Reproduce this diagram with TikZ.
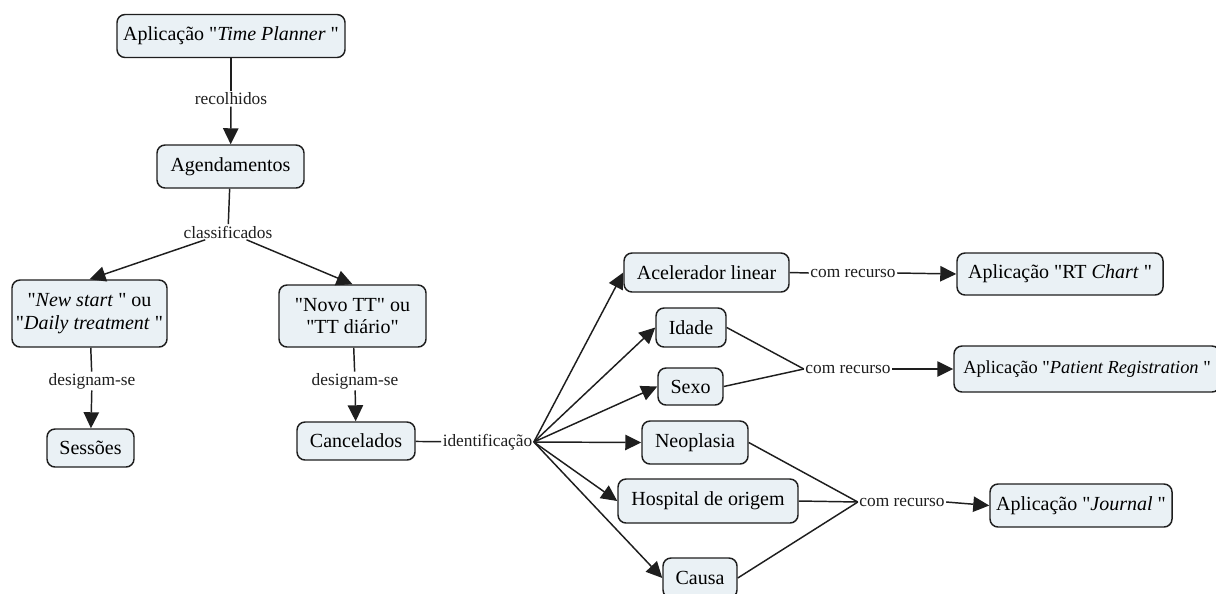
\documentclass[tikz,border=0pt]{standalone}
\usepackage{fontspec}
\setmainfont{Liberation Serif}[Ligatures=TeXOff]
\usetikzlibrary{arrows.meta}
\definecolor{boxfill}{RGB}{234,241,245}
\definecolor{ink}{RGB}{30,30,30}
\tikzset{
  concept/.style={draw=ink, line width=1.1pt, fill=boxfill, rounded corners=6pt,
    align=center, inner sep=1pt, font=\fontsize{15}{17}\selectfont},
  linklabel/.style={inner sep=1pt, font=\fontsize{13}{15}\selectfont, text=ink},
  link/.style={draw=ink, line width=1.1pt},
  arr/.style={link, -{Triangle[length=12pt,width=11.5pt]}}
}
\begin{document}
\begin{tikzpicture}[x=0.75pt,y=-0.75pt]
\useasboundingbox (0,0) rectangle (1216,593);
\clip (0,0) rectangle (1216,593);
% concepts
\node[concept, minimum width=171pt, minimum height=32.25pt] (tp) at (231,36) {Aplicação "\textit{Time Planner} "};
\node[concept, minimum width=110.25pt, minimum height=32.25pt] (ag) at (230.5,166.5) {Agendamentos};
\node[concept, minimum width=116.25pt, minimum height=50.25pt] (ns) at (89.5,313.5) {"\textit{New start} " ou\\"\textit{Daily treatment} "};
\node[concept, minimum width=110.25pt, minimum height=46.5pt] (nt) at (352.5,316) {"Novo TT" ou\\"TT diário"};
\node[concept, minimum width=65.25pt, minimum height=28.5pt] (se) at (90.5,448) {Sessões};
\node[concept, minimum width=88.5pt, minimum height=28.5pt] (ca) at (356,441) {Cancelados};
\node[concept, minimum width=123.75pt, minimum height=29.25pt] (ac) at (706.5,272.5) {Acelerador linear};
\node[concept, minimum width=52.5pt, minimum height=29.25pt] (id) at (691,327.5) {Idade};
\node[concept, minimum width=48.75pt, minimum height=27.75pt] (sx) at (690.5,386.5) {Sexo};
\node[concept, minimum width=79.5pt, minimum height=32.25pt] (ne) at (695,442.5) {Neoplasia};
\node[concept, minimum width=135pt, minimum height=33pt] (ho) at (708,501) {Hospital de origem};
\node[concept, minimum width=55.5pt, minimum height=30pt] (cs) at (700,578) {Causa};
\node[concept, minimum width=154.5pt, minimum height=31.5pt] (rt) at (1060,274) {Aplicação "RT \textit{Chart} "};
\node[concept, minimum width=199.5pt, minimum height=34.5pt, font=\fontsize{13.8}{16}\selectfont] (pr) at (1087,369) {Aplicação "\textit{Patient Registration} "};
\node[concept, minimum width=136.5pt, minimum height=32.25pt] (jo) at (1081,505.5) {Aplicação "\textit{Journal} "};
% linking phrases
\node[linklabel] (lrec) at (231,99) {recolhidos};
\node[linklabel] (lcla) at (228,232) {classificados};
\node[linklabel] (ldl) at (92,381) {designam-se};
\node[linklabel] (ldr) at (355,381) {designam-se};
\node[linklabel] (lid) at (487.5,442) {identificação};
\node[linklabel] (lcr1) at (853,273) {com recurso};
\node[linklabel] (lcr2) at (848,369) {com recurso};
\node[linklabel] (lcr3) at (902,502) {com recurso};
% connectors
\draw[link] (tp) -- (lrec);
\draw[arr] (lrec) -- (ag);
\draw[link] (ag) -- (lcla);
\draw[arr] (lcla) -- (ns.north);
\draw[arr] (lcla) -- (nt.north);
\draw[link] (ns) -- (ldl);
\draw[arr] (ldl) -- (se);
\draw[link] (nt) -- (ldr);
\draw[arr] (ldr) -- (ca);
\draw[link] (ca) -- (lid);
\draw[arr] (lid.east) -- (ac.west);
\draw[arr] (lid.east) -- (id.west);
\draw[arr] (lid.east) -- (sx.west);
\draw[arr] (lid.east) -- (ne.west);
\draw[arr] (lid.east) -- (ho.west);
\draw[arr] (lid.east) -- (cs.west);
\draw[link] (ac.east) -- (lcr1.west);
\draw[arr] (lcr1.east) -- (rt.west);
\draw[link] (id.east) -- (lcr2.west);
\draw[link] (sx.east) -- (lcr2.west);
\draw[arr] (lcr2.east) -- (pr.west);
\draw[link] (ne.east) -- (lcr3.west);
\draw[link] (ho.east) -- (lcr3.west);
\draw[link] (cs.east) -- (lcr3.west);
\draw[arr] (lcr3.east) -- (jo.west);
\end{tikzpicture}
\end{document}
